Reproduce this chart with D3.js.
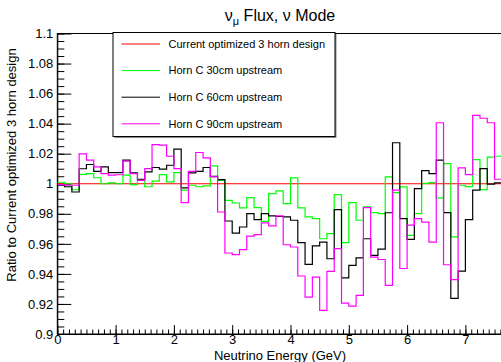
<!DOCTYPE html>
<html>
<head>
<meta charset="utf-8">
<script src="https://cdn.jsdelivr.net/npm/d3@7"></script>
<style>
  body { margin: 0; background: #fff; }
  svg { display: block; font-family: "Liberation Sans", Arial, sans-serif; }
</style>
</head>
<body>
<svg id="chart" width="501" height="362"></svg>
<script>
// bin width of the ratio histograms (GeV), bins start at 0
const binWidth = 0.125;

// Current optimized 3 horn design (the reference, ratio to itself)
const current = [1, 1, 1, 1, 1, 1, 1, 1, 1, 1, 1, 1, 1, 1, 1, 1, 1, 1, 1, 1,
  1, 1, 1, 1, 1, 1, 1, 1, 1, 1, 1, 1, 1, 1, 1, 1, 1, 1, 1, 1,
  1, 1, 1, 1, 1, 1, 1, 1, 1, 1, 1, 1, 1, 1, 1, 1, 1, 1, 1, 1, 1];

// Horn C 30cm upstream
const hornC30 = [1.001, 1.0, 0.996, 1.0063, 1.0068, 1.004, 1.0, 1.0006, 1.0, 1.0057,
  0.9994, 1.0028, 0.998, 1.0017, 1.0061, 1.0012, 1.0074, 0.9957, 0.999, 0.998,
  0.9986, 1.0119, 1.0023, 0.989, 0.9872, 0.9839, 0.9908, 0.9841, 0.975, 0.9934,
  0.9952, 0.9868, 1.0039, 0.9839, 0.9779, 0.9768, 0.9634, 0.9668, 0.9928, 0.9608,
  0.9874, 0.9757, 0.9846, 0.9808, 0.9801, 1.0046, 0.9941, 0.9979, 0.9657, 0.9801,
  1.0003, 1.0008, 0.9906, 1.0134, 0.9646, 0.999, 0.9981, 1.0161, 0.9961, 1.0177, 1.0183];

// Horn C 60cm upstream
const hornC60 = [0.999, 0.998, 0.9945, 1.010, 1.0128, 1.0083, 1.0112, 1.0074, 1.0074, 1.0157,
  1.0072, 1.003, 1.0079, 1.0108, 1.0097, 1.0123, 1.023, 0.9972, 1.0072, 1.0083,
  1.0108, 1.005, 1.0028, 0.9752, 0.9672, 0.9712, 0.9801, 0.9761, 0.9801, 0.9786,
  0.9782, 0.9779, 0.9757, 0.9608, 0.9463, 0.9586, 0.9612, 0.9501, 0.9828, 0.9374,
  0.9457, 0.9506, 0.9634, 0.9523, 0.9565, 0.9807, 1.0273, 0.9768, 0.963, 0.9968,
  1.0088, 1.0068, 1.0157, 0.9808, 0.9237, 0.9418, 0.9761, 0.9957, 1.0101, 0.9998, 1.0006];

// Horn C 90cm upstream
const hornC90 = [0.9995, 0.999, 0.999, 1.0199, 1.0157, 1.0112, 1.0068, 1.0057, 1.006, 1.015,
  1.0068, 1.0023, 1.0101, 1.0261, 1.0257, 1.0183, 1.0101, 0.9874, 1.0083, 1.0208,
  1.0172, 1.0046, 0.9812, 0.9539, 0.9528, 0.9561, 0.9652, 0.9661, 0.9739, 0.9719,
  0.9786, 0.9594, 0.9579, 0.9386, 0.9246, 0.9379, 0.9157, 0.9417, 0.9568, 0.9206,
  0.9186, 0.9257, 0.9841, 0.9512, 0.9496, 0.9323, 0.9957, 0.9436, 0.9725, 0.9768,
  0.9744, 0.9611, 1.0406, 0.9461, 0.9362, 1.0106, 1.0061, 1.0455, 1.0436, 1.0406, 1.003];

const seriesNames = ["Current optimized 3 horn design", "Horn C 30cm upstream",
  "Horn C 60cm upstream", "Horn C 90cm upstream"];
const seriesValues = [current, hornC30, hornC60, hornC90];
const seriesColors = ["#ff0000", "#00ff00", "#000000", "#ff00ff"];

// only 0..7 fall inside the picture, the axis itself runs to 8 GeV
const xTicks = [0, 1, 2, 3, 4, 5, 6, 7];
const yTicks = [0.9, 0.92, 0.94, 0.96, 0.98, 1, 1.02, 1.04, 1.06, 1.08, 1.1];
const yTickLabels = ["0.9", "0.92", "0.94", "0.96", "0.98", "1", "1.02", "1.04", "1.06", "1.08", "1.1"];

const svg = d3.select("#chart");
const font = "Liberation Sans, Arial, sans-serif";

// frame geometry (the right part of the frame falls outside the picture)
const padLeft = 57.3, padTop = 33.5, padBottom = 334, padRight = 57.3 + 8 * 58.3;

const x = d3.scaleLinear().domain([0, 8]).range([padLeft, padRight]);
const y = d3.scaleLinear().domain([0.9, 1.1]).range([padBottom, padTop]);

// frame
svg.append("rect")
  .attr("x", padLeft).attr("y", padTop)
  .attr("width", padRight - padLeft).attr("height", padBottom - padTop)
  .attr("fill", "none").attr("stroke", "#000").attr("stroke-width", 1);

// x axis: major + minor ticks pointing inward
const xMinor = d3.range(0, 81).map(d => d / 10);
svg.append("g")
  .attr("transform", `translate(0,${padBottom})`)
  .call(d3.axisBottom(x).tickValues(xMinor).tickSize(-4.5).tickSizeOuter(0).tickFormat(""))
  .call(g => g.select(".domain").remove());
svg.append("g")
  .attr("transform", `translate(0,${padBottom})`)
  .call(d3.axisBottom(x).tickValues(xTicks).tickSize(-9).tickSizeOuter(0).tickPadding(0.5).tickFormat(d3.format("d")))
  .call(g => g.select(".domain").attr("stroke", "#000"))
  .call(g => g.selectAll("text").attr("font-size", 13).attr("font-family", font).attr("fill", "#000"));

// y axis
const yMinor = d3.range(0, 41).map(d => 0.9 + d * 0.005);
svg.append("g")
  .attr("transform", `translate(${padLeft},0)`)
  .call(d3.axisLeft(y).tickValues(yMinor).tickSize(-7).tickSizeOuter(0).tickFormat(""))
  .call(g => g.select(".domain").remove());
svg.append("g")
  .attr("transform", `translate(${padLeft},0)`)
  .call(d3.axisLeft(y).tickValues(yTicks).tickSize(-14).tickSizeOuter(0).tickPadding(4)
    .tickFormat((d, i) => yTickLabels[i]))
  .call(g => g.select(".domain").attr("stroke", "#000"))
  .call(g => g.selectAll("text").attr("font-size", 13).attr("font-family", font).attr("fill", "#000"));

// histograms drawn as steps
svg.append("clipPath").attr("id", "plotclip")
  .append("rect").attr("x", padLeft).attr("y", padTop)
  .attr("width", padRight - padLeft).attr("height", padBottom - padTop);

const step = d3.line()
  .x(d => x(d[0]))
  .y(d => y(d[1]));

function stepPoints(values) {
  const pts = [];
  values.forEach((v, i) => {
    pts.push([i * binWidth, v]);
    pts.push([(i + 1) * binWidth, v]);
  });
  return pts;
}

const plot = svg.append("g").attr("clip-path", "url(#plotclip)");
seriesValues.forEach((vals, k) => {
  plot.append("path")
    .datum(stepPoints(vals))
    .attr("d", step)
    .attr("fill", "none")
    .attr("stroke", seriesColors[k])
    .attr("stroke-width", 1.2);
});

// legend
const lg = svg.append("g");
const lgX = 113, lgY = 32.5, lgW = 222, lgH = 104;
lg.append("rect")
  .attr("x", lgX + 1.5).attr("y", lgY + 1.5).attr("width", lgW).attr("height", lgH)
  .attr("fill", "#888");
lg.append("rect")
  .attr("x", lgX).attr("y", lgY).attr("width", lgW).attr("height", lgH)
  .attr("fill", "#fff").attr("stroke", "#000").attr("stroke-width", 1);
seriesNames.forEach((name, i) => {
  const ly = 44 + i * 26.6;
  lg.append("line")
    .attr("x1", 121.5).attr("x2", 160).attr("y1", ly).attr("y2", ly)
    .attr("stroke", seriesColors[i]).attr("stroke-width", 1);
  lg.append("text")
    .attr("x", 168.5).attr("y", ly).attr("dy", "0.35em")
    .attr("font-size", 11)
    .text(name);
});

// titles
const title = svg.append("text")
  .attr("x", 280).attr("y", 21)
  .attr("text-anchor", "middle")
  .attr("font-size", 16);
title.append("tspan").text("ν");
title.append("tspan").attr("dy", 4).attr("font-size", 11).text("μ");
title.append("tspan").attr("dy", -4).text(" Flux, ν Mode");

svg.append("text")
  .attr("x", 280).attr("y", 359.5)
  .attr("text-anchor", "middle")
  .attr("font-size", 13)
  .text("Neutrino Energy (GeV)");

svg.append("text")
  .attr("transform", "translate(16,165) rotate(-90)")
  .attr("text-anchor", "middle")
  .attr("font-size", 13)
  .text("Ratio to Current optimized 3 horn design");
</script>
</body>
</html>
